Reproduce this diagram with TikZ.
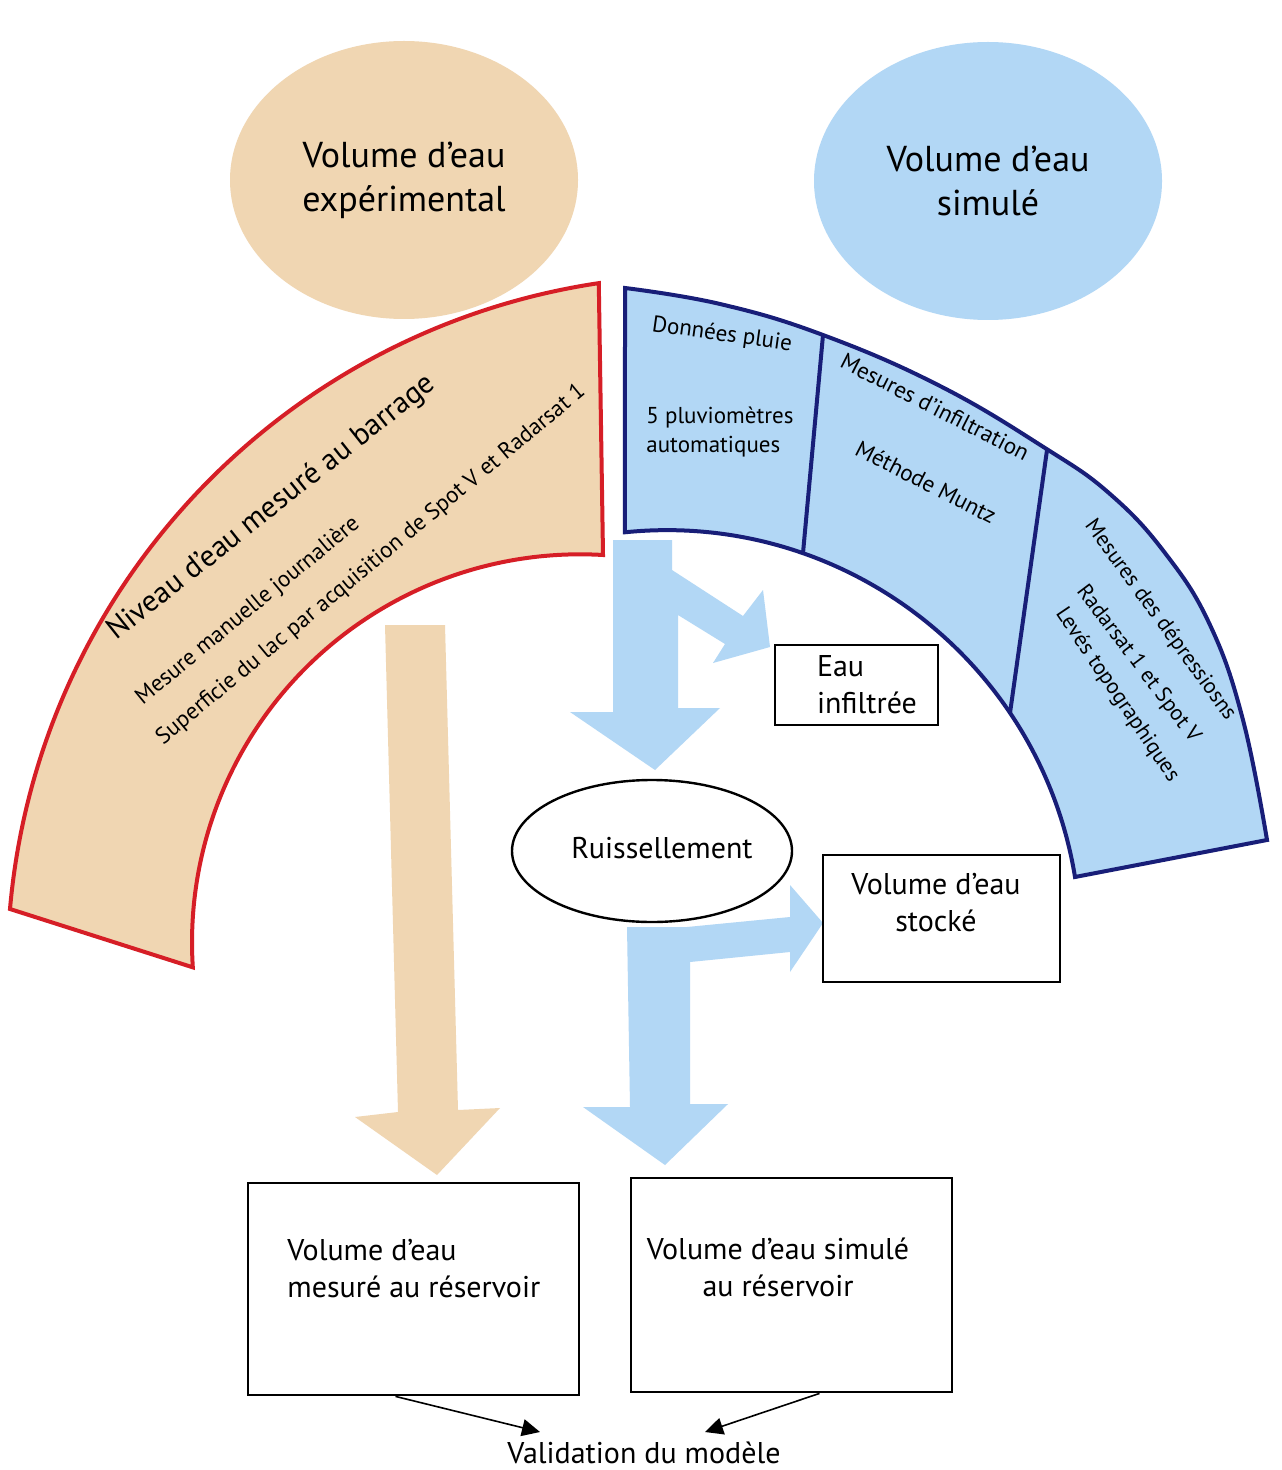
\documentclass[tikz,border=0pt]{standalone}
\usepackage{fontspec}
\setmainfont{PT Sans}
\usetikzlibrary{arrows.meta,shapes.geometric}
\definecolor{sable}{RGB}{240,214,178}
\definecolor{ciel}{RGB}{178,215,245}
\definecolor{rouge}{RGB}{214,30,38}
\definecolor{marine}{RGB}{24,30,120}
\begin{document}
\begin{tikzpicture}[x=0.5pt, y=0.5pt, >={Triangle[width=8.5pt,length=9pt]},
		bulle/.style={ellipse, inner sep=0pt, minimum width=174pt, minimum height=139pt, align=center, font=\fontsize{18}{22}\selectfont},
		boite/.style={draw, line width=1.4pt, fill=white, inner sep=0pt},
		texte/.style={inner sep=0pt, font=\fontsize{15}{18.5}\selectfont},
		petit/.style={inner sep=0pt, font=\fontsize{11.5}{14.5}\selectfont}]
	\useasboundingbox (0,0) rectangle (1281,-1470);
	\fill[white] (0,0) rectangle (1281,-1470);

	% ellipses du haut
	\node[bulle, fill=sable] (exp) at (404,-180) {Volume d’eau\\expérimental};
	\node[bulle, fill=ciel] (sim) at (988,-181) {Volume d’eau\\simulé};

	% bande de gauche
	\filldraw[fill=sable, draw=rouge, line width=2pt]
		(10,-909) arc[start angle=175, end angle=98.5, radius=694]
		-- (603,-555) arc[start angle=86.6, end angle=183.7, radius=388] -- cycle;

	% bande de droite
	\filldraw[fill=ciel, draw=marine, line width=2pt]
		plot[smooth, tension=0.7] coordinates {(625,-288) (720,-304) (823,-335) (940,-386) (1045,-448) (1110,-494) (1165,-553) (1210,-625) (1243,-720) (1267,-840)}
		-- (1075,-877) arc[start angle=9.3, end angle=95.8, radius=413.7] -- cycle;
	\draw[marine, line width=2pt] (823,-335) -- (803,-553);
	\draw[marine, line width=2pt] (1047,-450) -- (1010,-713);

	% grosses flèches
	\fill[sable] (385,-625) -- (445,-625) -- (458,-1110) -- (500,-1108) -- (437,-1175) -- (355,-1117) -- (398,-1112) -- cycle;
	\fill[ciel] (613,-540) -- (672,-540) -- (672,-570) -- (743,-616) -- (763,-590) -- (770,-647) -- (713,-663) -- (725,-644) -- (678,-615) -- (678,-708) -- (720,-708) -- (655,-770) -- (570,-712) -- (613,-712) -- cycle;
	\fill[ciel] (627,-927) -- (687,-927) -- (790,-917) -- (790,-885) -- (823,-923) -- (790,-972) -- (790,-952) -- (690,-962) -- (690,-1104) -- (728,-1104) -- (665,-1165) -- (583,-1107) -- (630,-1107) -- cycle;

	% textes des bandes
	\node[petit, font=\fontsize{15}{18}\selectfont, rotate=38.4] (niveau) at (272,-508) {Niveau d’eau mesuré au barrage};
	\node[petit, rotate=39.5] (manuel) at (248,-611) {Mesure manuelle journalière};
	\node[petit, rotate=39.7] (superf) at (371,-565) {Superficie du lac par acquisition de Spot V et Radarsat 1};
	\node[petit, rotate=-8] (pluie) at (722,-335) {Données pluie};
	\node[petit, align=left, anchor=west] (pluvio) at (646,-432) {5 pluviomètres\\automatiques};
	\node[petit, rotate=-27] (infiltr) at (935,-407) {Mesures d’infiltration};
	\node[petit, rotate=-27] (muntz) at (926,-482) {Méthode Muntz};
	\node[petit, font=\fontsize{11}{14}\selectfont, rotate=-54] (depr) at (1160,-620) {Mesures des dépressiosns};
	\node[petit, font=\fontsize{11}{14}\selectfont, rotate=-53] (radar) at (1138,-664) {Radarsat 1 et Spot V};
	\node[petit, font=\fontsize{11}{14}\selectfont, rotate=-56] (leves) at (1117,-695) {Levés topographiques};

	% noeuds du milieu
	\node[ellipse, draw, line width=1.2pt, minimum width=140pt, minimum height=71pt, inner sep=0pt] (ruis) at (652,-851) {};
	\node[texte] (ruist) at (662,-848) {Ruissellement};
	\node[boite, minimum width=81.5pt, minimum height=40pt] (infil) at (856.5,-685) {};
	\node[texte, align=left, anchor=west] (infilt) at ([xshift=21.5pt]infil.west) {Eau\\infiltrée};
	\node[boite, minimum width=118.5pt, minimum height=63.5pt] (stock) at (941.5,-918.5) {};
	\node[texte, align=center] (stockt) at (936,-903) {Volume d’eau\\stocké};

	% réservoirs
	\node[boite, minimum width=165.5pt, minimum height=106pt] (mesure) at (413.5,-1289) {};
	\node[texte, align=left, anchor=west] (mesuret) at (287,-1268.5) {Volume d’eau\\mesuré au réservoir};
	\node[boite, minimum width=160.5pt, minimum height=107pt] (simul) at (791.5,-1285) {};
	\node[texte, align=center] (simult) at (778,-1267) {Volume d’eau simulé\\au réservoir};

	% validation
	\node[texte] (valid) at (644,-1453) {Validation du modèle};
	\coordinate (pg) at (540,-1432);
	\coordinate (pd) at (705,-1432);
	\draw[->, line width=0.8pt] ([xshift=-9pt]mesure.south) -- (pg);
	\draw[->, line width=0.8pt] ([xshift=14pt]simul.south) -- (pd);
\end{tikzpicture}
\end{document}
